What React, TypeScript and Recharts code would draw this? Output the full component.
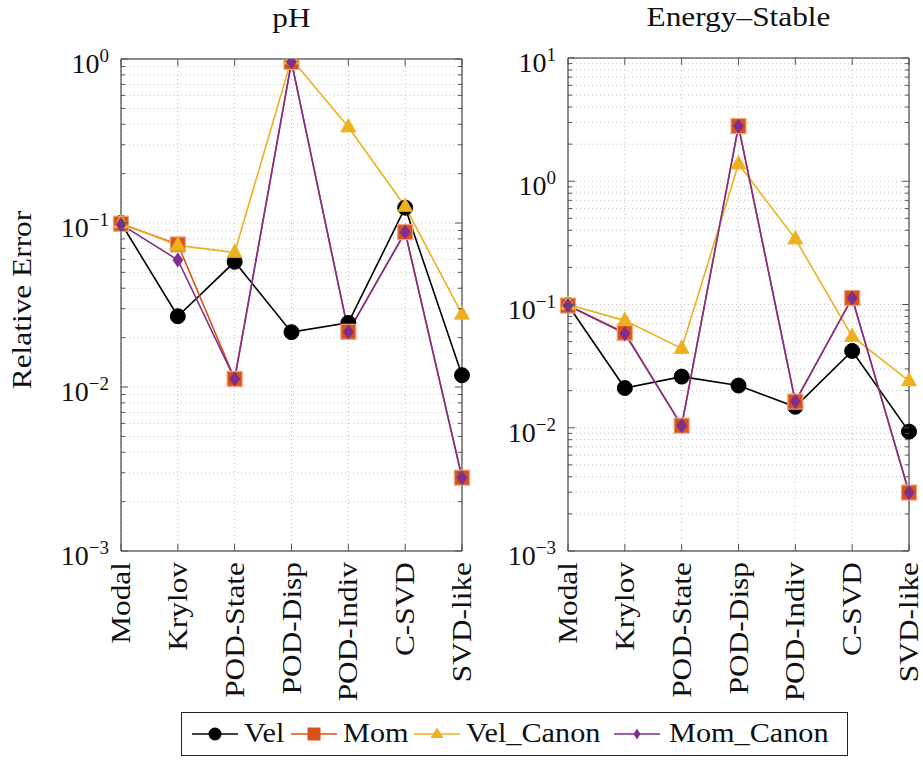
import React from 'react';
import { LineChart, Line, XAxis, YAxis, CartesianGrid } from 'recharts';

const categories = ['Modal', 'Krylov', 'POD-State', 'POD-Disp', 'POD-Indiv', 'C-SVD', 'SVD-like'];

// pH panel
const phVel = [0.1, 0.027, 0.058, 0.0216, 0.0246, 0.124, 0.0118];
const phMom = [0.099, 0.074, 0.0112, 0.96, 0.0217, 0.088, 0.0028];
const phVelCanon = [0.1, 0.073, 0.066, 1.0, 0.385, 0.126, 0.0278];
const phMomCanon = [0.098, 0.0595, 0.0112, 0.96, 0.0217, 0.088, 0.0028];

// Energy–Stable panel
const esVel = [0.099, 0.021, 0.026, 0.022, 0.0148, 0.042, 0.0093];
const esMom = [0.098, 0.059, 0.0104, 2.8, 0.0163, 0.113, 0.00298];
const esVelCanon = [0.1, 0.074, 0.044, 1.38, 0.34, 0.055, 0.024];
const esMomCanon = [0.098, 0.058, 0.0104, 2.8, 0.0163, 0.113, 0.00298];

const phMajorTicks = [0.001, 0.01, 0.1, 1];
const esMajorTicks = [0.001, 0.01, 0.1, 1, 10];
const minorMultipliers = [2, 3, 4, 5, 6, 7, 8, 9];

const seriesNames = ['Vel', 'Mom', 'Vel_Canon', 'Mom_Canon'];
const COLORS: Record<string, string> = {
  Vel: '#000000',
  Mom: '#D95319',
  Vel_Canon: '#EDB120',
  Mom_Canon: '#7E2F8E',
};

const FONT = "'Liberation Serif', 'Times New Roman', serif";
const FS = 28;
const STRETCH = 1.12;

function buildRows(a: number[], b: number[], c: number[], d: number[]) {
  return categories.map((name, i) => ({ name, Vel: a[i], Mom: b[i], Vel_Canon: c[i], Mom_Canon: d[i] }));
}
function buildTicks(majors: number[]) {
  const out: number[] = [];
  majors.forEach((m, i) => {
    out.push(m);
    if (i < majors.length - 1) minorMultipliers.forEach((k) => out.push(parseFloat((m * k).toPrecision(6))));
  });
  return out;
}

const phRows = buildRows(phVel, phMom, phVelCanon, phMomCanon);
const esRows = buildRows(esVel, esMom, esVelCanon, esMomCanon);

const isMajor = (v: number) => {
  const e = Math.log10(v);
  return Math.abs(e - Math.round(e)) < 1e-6;
};

const TICK_COLOR = '#555';
const AXIS_COLOR = '#222';

const makeYTick = (side: 'left' | 'right') => (props: any) => {
  const { x, y, payload } = props;
  const v = payload.value as number;
  const major = isMajor(v);
  const len = major ? 7 : 4;
  const dir = side === 'left' ? 1 : -1;
  const exp = Math.round(Math.log10(v));
  const expStr = exp < 0 ? '\u2212' + Math.abs(exp) : String(exp);
  return (
    <g>
      <line x1={x} y1={y} x2={x + dir * len} y2={y} stroke={TICK_COLOR} strokeWidth={1} />
      {side === 'left' && major && (
        <text x={x - 12} y={y + 14} textAnchor="end" fontFamily={FONT} fontSize={FS} fill="#111">
          <tspan>10</tspan>
          <tspan dy={-11} fontSize={19}>{expStr}</tspan>
        </text>
      )}
    </g>
  );
};

const XTickBottom = (props: any) => {
  const { x, y, payload } = props;
  const tx = x + 9;
  const ty = y + 11;
  return (
    <g>
      <line x1={x} y1={y} x2={x} y2={y - 7} stroke={TICK_COLOR} strokeWidth={1} />
      <text
        x={0}
        y={0}
        transform={`translate(${tx} ${ty}) rotate(-90) scale(${STRETCH} 1)`}
        textAnchor="end"
        fontFamily={FONT}
        fontSize={FS}
        fill="#111"
      >
        {payload.value}
      </text>
    </g>
  );
};

const XTickTop = (props: any) => {
  const { x, y } = props;
  return <line x1={x} y1={y} x2={x} y2={y + 7} stroke={TICK_COLOR} strokeWidth={1} />;
};

const CircleDot = (p: any) => (p.cx == null ? <g key={p.index} /> : <circle key={p.index} cx={p.cx} cy={p.cy} r={7.5} fill="#000" stroke="#000" />);
const SquareDot = (p: any) =>
  p.cx == null ? <g key={p.index} /> : (
    <rect key={p.index} x={p.cx - 7.5} y={p.cy - 7.5} width={15} height={15} fill={COLORS.Mom} stroke="#EBA282" strokeWidth={1.2} />
  );
const TriangleDot = (p: any) =>
  p.cx == null ? <g key={p.index} /> : (
    <polygon key={p.index} points={`${p.cx},${p.cy - 8.5} ${p.cx - 7.5},${p.cy + 5} ${p.cx + 7.5},${p.cy + 5}`} fill={COLORS.Vel_Canon} stroke={COLORS.Vel_Canon} strokeWidth={0.8} />
  );
const DiamondDot = (p: any) =>
  p.cx == null ? <g key={p.index} /> : (
    <polygon key={p.index} points={`${p.cx},${p.cy - 7} ${p.cx + 5},${p.cy} ${p.cx},${p.cy + 7} ${p.cx - 5},${p.cy}`} fill={COLORS.Mom_Canon} stroke={COLORS.Mom_Canon} strokeWidth={0.8} />
  );

const DOTS: Record<string, (p: any) => any> = {
  Vel: CircleDot,
  Mom: SquareDot,
  Vel_Canon: TriangleDot,
  Mom_Canon: DiamondDot,
};

type PanelProps = {
  rows: any[];
  title: string;
  majors: number[];
  width: number;
  height: number;
  margin: { top: number; right: number; bottom: number; left: number };
  yAxisWidth: number;
  showYLabel: boolean;
};

function Panel({ rows, title, majors, width, height, margin, yAxisWidth, showYLabel }: PanelProps) {
  const ticks = buildTicks(majors);
  const domain = [majors[0], majors[majors.length - 1]];
  return (
    <LineChart width={width} height={height} data={rows} margin={margin}>
      <CartesianGrid stroke="#c4c4c4" strokeDasharray="1 3" strokeWidth={1} />
      <XAxis
        dataKey="name"
        scale="point"
        padding={{ left: 0, right: 0 }}
        height={1}
        interval={0}
        tickSize={0}
        tickMargin={0}
        tickLine={false}
        axisLine={{ stroke: AXIS_COLOR, strokeWidth: 1 }}
        tick={XTickBottom}
      />
      <XAxis
        xAxisId="t"
        orientation="top"
        dataKey="name"
        scale="point"
        padding={{ left: 0, right: 0 }}
        height={1}
        interval={0}
        tickSize={0}
        tickMargin={0}
        tickLine={false}
        axisLine={{ stroke: AXIS_COLOR, strokeWidth: 1 }}
        tick={XTickTop}
        label={(p: any) => {
          const vb = p.viewBox || {};
          const cx = vb.x + vb.width / 2;
          const cy = vb.y + vb.height - 32;
          return (
            <text
              x={0}
              y={0}
              transform={`translate(${cx} ${cy}) scale(${STRETCH} 1)`}
              textAnchor="middle"
              fontFamily={FONT}
              fontSize={FS}
              fill="#111"
            >
              {title}
            </text>
          );
        }}
      />
      <YAxis
        type="number"
        scale="log"
        domain={domain}
        allowDataOverflow
        ticks={ticks}
        interval={0}
        width={yAxisWidth}
        tickSize={0}
        tickMargin={0}
        tickLine={false}
        axisLine={{ stroke: AXIS_COLOR, strokeWidth: 1 }}
        tick={makeYTick('left')}
        label={
          showYLabel
            ? (p: any) => {
                const vb = p.viewBox || {};
                const cx = 22;
                const cy = vb.y + vb.height / 2 - 5;
                return (
                  <text
                    x={0}
                    y={0}
                    transform={`translate(${cx} ${cy}) rotate(-90) scale(${STRETCH} 1)`}
                    textAnchor="middle"
                    dominantBaseline="central"
                    fontFamily={FONT}
                    fontSize={FS}
                    fill="#111"
                  >
                    Relative Error
                  </text>
                );
              }
            : undefined
        }
      />
      <YAxis
        yAxisId="r"
        orientation="right"
        type="number"
        scale="log"
        domain={domain}
        allowDataOverflow
        ticks={ticks}
        interval={0}
        width={1}
        tickSize={0}
        tickMargin={0}
        tickLine={false}
        axisLine={{ stroke: AXIS_COLOR, strokeWidth: 1 }}
        tick={makeYTick('right')}
      />
      {seriesNames.map((s) => (
        <Line
          key={s}
          type="linear"
          dataKey={s}
          stroke={COLORS[s]}
          strokeWidth={1.6}
          dot={DOTS[s]}
          activeDot={false}
          isAnimationActive={false}
        />
      ))}
    </LineChart>
  );
}

function LegendSample({ name }: { name: string }) {
  return (
    <svg width={48} height={24} style={{ display: 'block' }}>
      <line x1={1} y1={12} x2={47} y2={12} stroke={COLORS[name]} strokeWidth={1.6} />
      {name === 'Vel' && <circle cx={24} cy={12} r={6.5} fill="#000" />}
      {name === 'Mom' && <rect x={17.5} y={5.5} width={13} height={13} fill={COLORS.Mom} />}
      {name === 'Vel_Canon' && <polygon points="24,5.5 17.5,16 30.5,16" fill={COLORS.Vel_Canon} />}
      {name === 'Mom_Canon' && <polygon points="24,6.5 27.5,12 24,17.5 20.5,12" fill={COLORS.Mom_Canon} />}
    </svg>
  );
}

const legendSampleLeft = [9, 108, 231, 431];
const legendTextLeft = [62, 161, 284, 487];

export default function App() {
  return (
    <div style={{ position: 'absolute', left: 0, top: 0, width: 923, height: 761, background: '#fff', fontFamily: FONT, overflow: 'hidden' }}>
      <div style={{ position: 'absolute', left: 0, top: 0 }}>
        <Panel
          rows={phRows}
          title="pH"
          majors={phMajorTicks}
          width={490}
          height={705}
          margin={{ top: 58, right: 27, bottom: 153, left: 0 }}
          yAxisWidth={121}
          showYLabel
        />
      </div>
      <div style={{ position: 'absolute', left: 470, top: 0 }}>
        <Panel
          rows={esRows}
          title="Energy–Stable"
          majors={esMajorTicks}
          width={453}
          height={705}
          margin={{ top: 57, right: 13, bottom: 153, left: 0 }}
          yAxisWidth={98}
          showYLabel={false}
        />
      </div>
      <div
        style={{
          position: 'absolute',
          left: 181,
          top: 712,
          width: 667,
          height: 44,
          border: '1px solid #222',
          boxSizing: 'border-box',
          background: '#fff',
        }}
      >
        {seriesNames.map((s, i) => (
          <React.Fragment key={s}>
            <div style={{ position: 'absolute', left: legendSampleLeft[i], top: 9 }}>
              <LegendSample name={s} />
            </div>
            <div
              style={{
                position: 'absolute',
                left: legendTextLeft[i],
                top: 3,
                fontSize: FS,
                lineHeight: '34px',
                color: '#111',
                whiteSpace: 'nowrap',
                transform: 'scaleX(1.08)',
                transformOrigin: 'left center',
              }}
            >
              {s}
            </div>
          </React.Fragment>
        ))}
      </div>
    </div>
  );
}
